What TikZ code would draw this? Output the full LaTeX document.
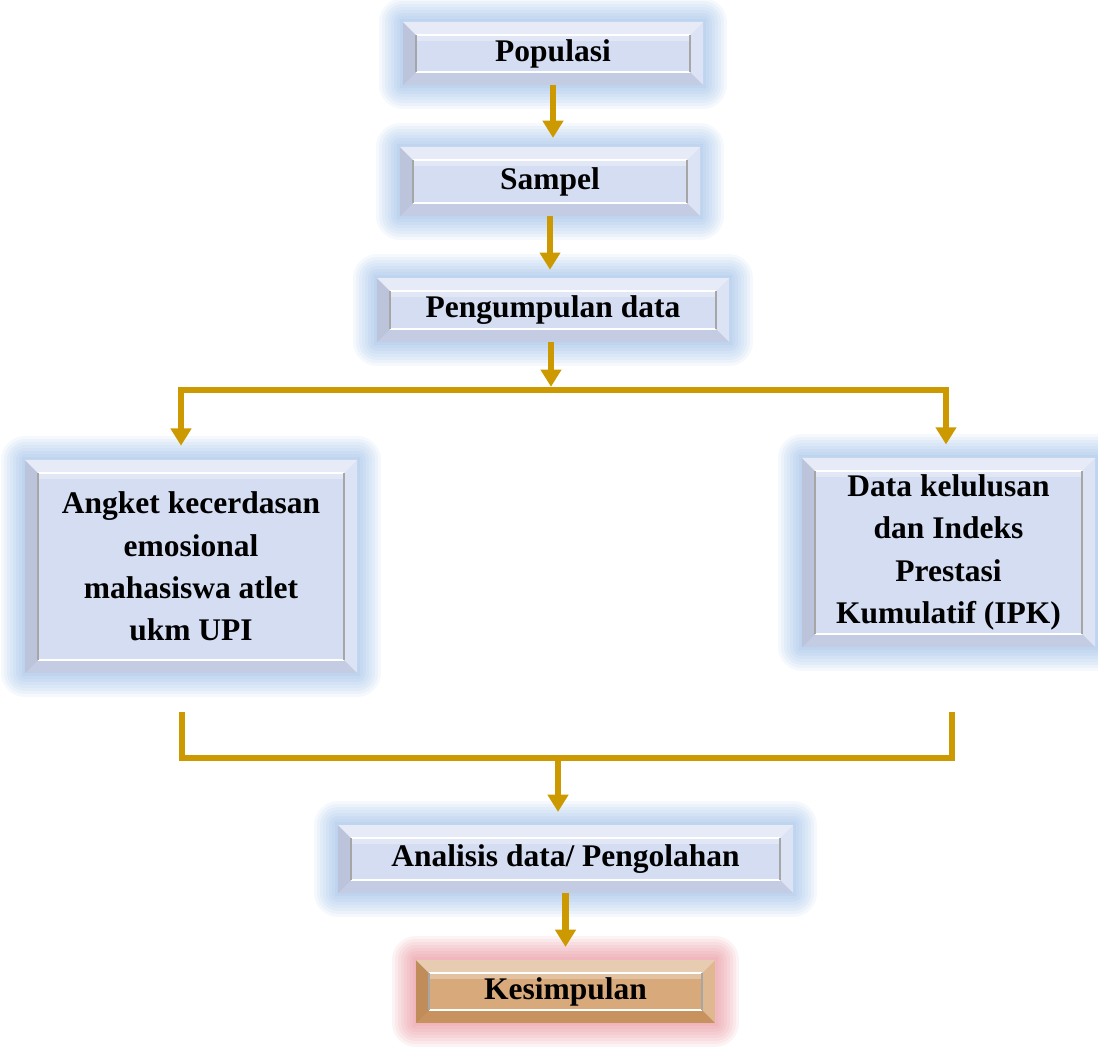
\documentclass[tikz,border=0pt]{standalone}
\usepackage{fontspec}
\setmainfont{Liberation Serif}
\usetikzlibrary{arrows.meta,calc}
\definecolor{gold}{RGB}{204,153,0}
\definecolor{panelblue}{RGB}{206,216,240}
\definecolor{glowblue}{RGB}{110,160,220}
\definecolor{wood}{RGB}{210,154,100}
\definecolor{glowpink}{RGB}{226,120,132}
\tikzset{
  bevel/.style={inner sep=0pt, align=center,
    font=\bfseries\fontsize{22.4}{30}\selectfont,
    path picture={
      \path (path picture bounding box.north west) coordinate (o1)
            (path picture bounding box.north east) coordinate (o2)
            (path picture bounding box.south east) coordinate (o3)
            (path picture bounding box.south west) coordinate (o4);
      \path ($(o1)+(13,-13)$) coordinate (i1) ($(o2)+(-13,-13)$) coordinate (i2)
            ($(o3)+(-13,13)$) coordinate (i3) ($(o4)+(13,13)$) coordinate (i4);
      \fill[white,opacity=.5] (o1) -- (o2) -- (i2) -- (i1) -- cycle;
      \fill[black,opacity=.09] (o1) -- (i1) -- (i4) -- (o4) -- cycle;
      \fill[white,opacity=.3] (o2) -- (o3) -- (i3) -- (i2) -- cycle;
      \fill[black,opacity=.05] (o4) -- (i4) -- (i3) -- (o3) -- cycle;
      \fill[white,opacity=.15] (i1) rectangle (i3);
      \fill[white,opacity=.3] (i1) rectangle ($(i2)+(0,-6)$);
      \draw[white,line width=.05cm] (i1) -- (i2) (i4) -- (i3);
      \draw[black!35,line width=.03cm] (i2) -- (i3) (i1) -- (i4);
    }},
  glow/.style n args={2}{
    preaction={draw=#1,line width=1.2cm,line join=round,opacity=#2},
    preaction={draw=#1,line width=1.05cm,line join=round,opacity=#2},
    preaction={draw=#1,line width=.9cm,line join=round,opacity=#2},
    preaction={draw=#1,line width=.75cm,line join=round,opacity=#2},
    preaction={draw=#1,line width=.6cm,line join=round,opacity=#2},
    preaction={draw=#1,line width=.45cm,line join=round,opacity=#2},
    preaction={draw=#1,line width=.3cm,line join=round,opacity=#2},
    preaction={draw=#1,line width=.15cm,opacity=#2}},
  panel/.style={bevel, glow={glowblue}{.07}, fill=panelblue},
  result/.style={bevel, glow={glowpink}{.09}, fill=wood},
  link/.style={draw=gold, line width=.16cm},
  flow/.style={link, -{Triangle[width=.5cm,length=.43cm]}},
  twoway/.style={link, {Triangle[width=.5cm,length=.43cm]}-{Triangle[width=.5cm,length=.43cm]}}
}
\begin{document}
\begin{tikzpicture}[x=0.025cm,y=0.025cm]
  \useasboundingbox (0,0) rectangle (1098,-1048);
  % boxes
  \node[panel,minimum width=7.5cm,minimum height=1.575cm] (pop) at (553,-53.5) {Populasi};
  \node[panel,minimum width=7.5cm,minimum height=1.725cm] (samp) at (550,-181.5) {Sampel};
  \node[panel,minimum width=8.8cm,minimum height=1.6cm] (peng) at (553,-310) {Pengumpulan data};
  \node[panel,minimum width=8.3cm,minimum height=5.325cm] (angket) at (191,-566.5)
    {Angket kecerdasan\\emosional\\mahasiswa atlet\\ukm UPI};
  \node[panel,minimum width=7.325cm,minimum height=4.725cm] (data) at (948.5,-552.5)
    {Data kelulusan\\dan Indeks\\Prestasi\\Kumulatif (IPK)};
  \node[panel,minimum width=11.375cm,minimum height=1.7cm] (anal) at (565.5,-859) {Analisis data/ Pengolahan};
  \node[result,minimum width=7.475cm,minimum height=1.575cm] (kes) at (565.5,-991.5) {Kesimpulan};
  % fork and join
  \coordinate (fork) at (551,-390);
  \coordinate (forkl) at (181,-390);
  \coordinate (forkr) at (946,-390);
  \coordinate (joinl) at (182,-712);
  \coordinate (joinr) at (952,-712);
  \coordinate (merge) at (558,-758);
  % connectors
  \draw[flow,shorten >=.22cm] (pop.south) -- (pop.south |- samp.north);
  \draw[flow,shorten >=.2cm] (samp.south) -- (samp.south |- peng.north);
  \draw[flow,shorten >=.08cm] (peng.south -| fork) -- (fork);
  \draw[twoway,shorten <=.35cm,shorten >=.33cm] (forkl |- angket.north) -- (forkl) -- (forkr) -- (forkr |- data.north);
  \draw[link] (joinl) -- (joinl |- merge) -- (joinr |- merge) -- (joinr);
  \draw[flow,shorten >=.32cm] (merge) -- (merge |- anal.north);
  \draw[flow,shorten >=.32cm] (anal) -- (kes);
\end{tikzpicture}
\end{document}
